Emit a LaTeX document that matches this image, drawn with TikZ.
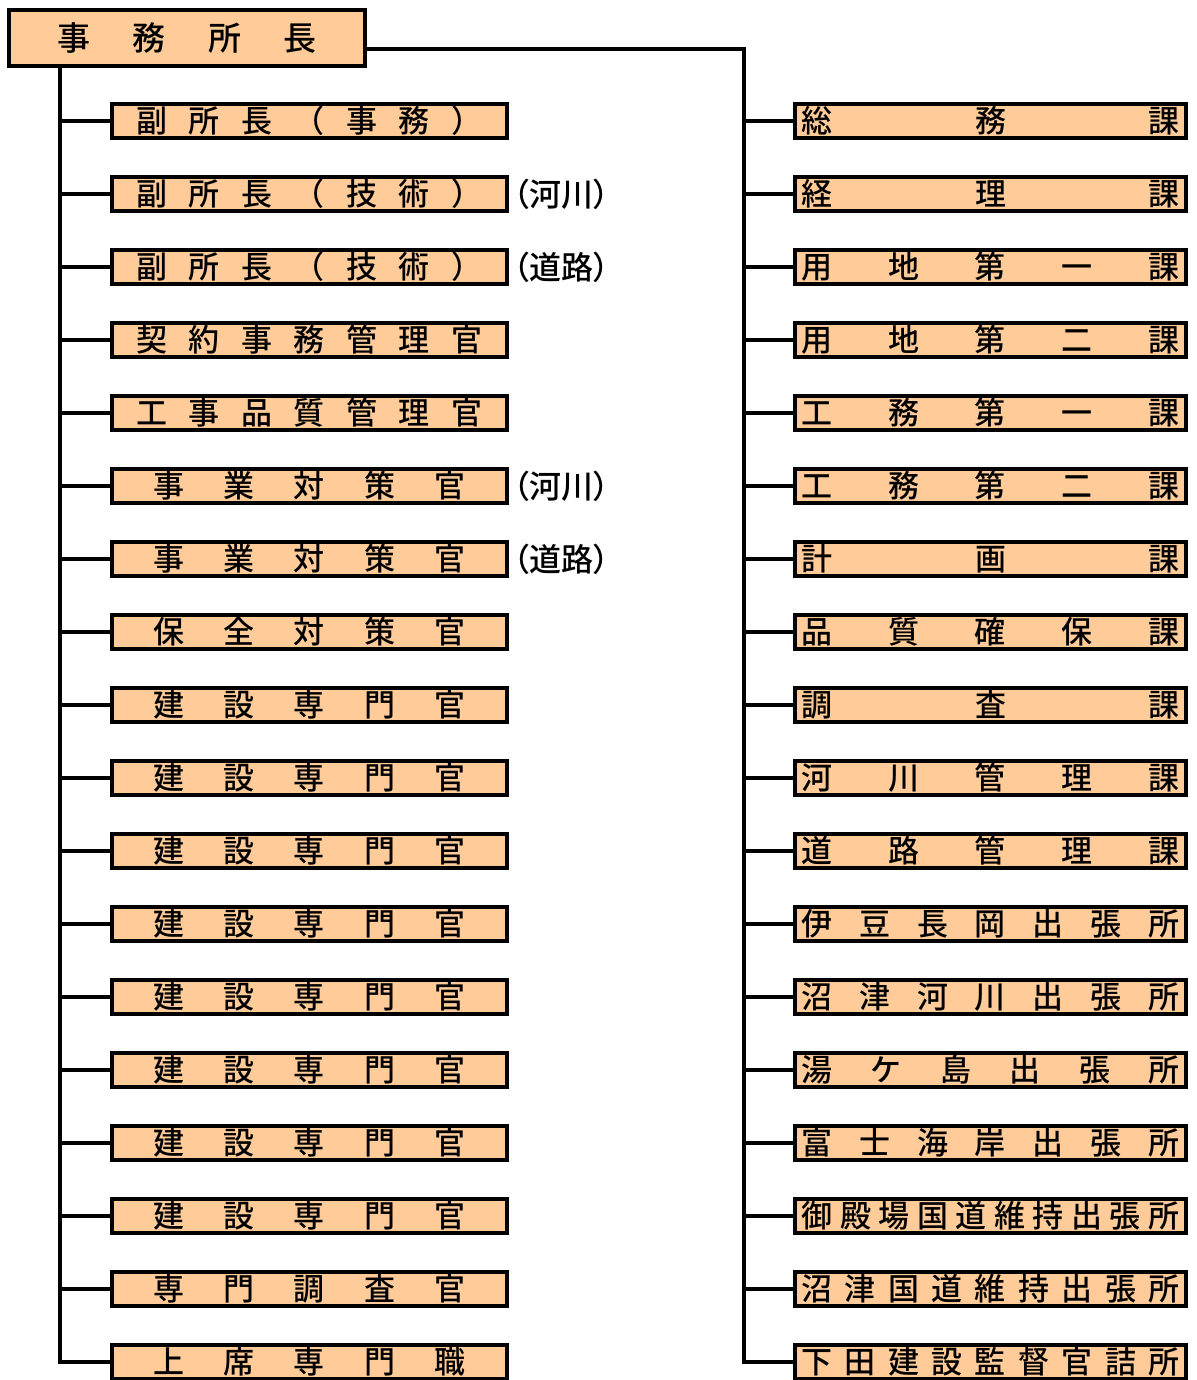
\documentclass[tikz,border=0pt]{standalone}
\usepackage{fontspec}
\setmainfont{Noto Sans CJK JP}[UprightFont=* Medium]
\newfontfamily\jpnarrow{Noto Sans CJK JP}[UprightFont=* Medium, RawFeature=+palt]
\usetikzlibrary{positioning}
\definecolor{peach}{RGB}{255,204,153}

% 文字を枠の幅いっぱいに均等割り付け
\newcommand\spreadbox[2]{\hbox to #1{\spreadloop#2\relax}}
\def\spreadloop#1#2{#1\ifx\relax#2\else\hfill\expandafter\spreadloop\expandafter#2\fi}

\begin{document}
\begin{tikzpicture}[
    x=0.5pt, y=-0.5pt,
    chiefbox/.style={
        draw, line width=2pt, fill=peach, inner sep=0pt,
        minimum width=178pt, minimum height=28pt,
        font=\fontsize{16.5pt}{18pt}\selectfont
    },
    staffbox/.style={
        draw, line width=2pt, fill=peach, inner sep=0pt,
        minimum width=197.5pt, minimum height=17pt,
        font=\fontsize{15.5pt}{17pt}\selectfont
    },
    sectbox/.style={
        draw, line width=2pt, fill=peach, inner sep=0pt,
        minimum width=195.5pt, minimum height=17pt,
        font=\fontsize{15.5pt}{17pt}\selectfont
    },
    note/.style={inner sep=0pt, font=\jpnarrow\fontsize{16pt}{17pt}\selectfont},
    conn/.style={line width=1.8pt}
]
\useasboundingbox (0,0) rectangle (1197,1380);

% 事務所長
\node[chiefbox] (chief) at (187,38) {\spreadbox{130pt}{事務所長}};

% 左列（官職）
\node[staffbox] (l1)  at (309.5,121)  {\spreadbox{173pt}{副所長（事務）}};
\node[staffbox] (l2)  at (309.5,194)  {\spreadbox{173pt}{副所長（技術）}};
\node[staffbox] (l3)  at (309.5,267)  {\spreadbox{173pt}{副所長（技術）}};
\node[staffbox] (l4)  at (309.5,340)  {\spreadbox{173pt}{契約事務管理官}};
\node[staffbox] (l5)  at (309.5,413)  {\spreadbox{173pt}{工事品質管理官}};
\node[staffbox] (l6)  at (309.5,486)  {\spreadbox{156pt}{事業対策官}};
\node[staffbox] (l7)  at (309.5,559)  {\spreadbox{156pt}{事業対策官}};
\node[staffbox] (l8)  at (309.5,632)  {\spreadbox{156pt}{保全対策官}};
\node[staffbox] (l9)  at (309.5,705)  {\spreadbox{156pt}{建設専門官}};
\node[staffbox] (l10) at (309.5,778)  {\spreadbox{156pt}{建設専門官}};
\node[staffbox] (l11) at (309.5,851)  {\spreadbox{156pt}{建設専門官}};
\node[staffbox] (l12) at (309.5,924)  {\spreadbox{156pt}{建設専門官}};
\node[staffbox] (l13) at (309.5,997)  {\spreadbox{156pt}{建設専門官}};
\node[staffbox] (l14) at (309.5,1070) {\spreadbox{156pt}{建設専門官}};
\node[staffbox] (l15) at (309.5,1143) {\spreadbox{156pt}{建設専門官}};
\node[staffbox] (l16) at (309.5,1216) {\spreadbox{156pt}{建設専門官}};
\node[staffbox] (l17) at (309.5,1289) {\spreadbox{156pt}{専門調査官}};
\node[staffbox] (l18) at (309.5,1362) {\spreadbox{156pt}{上席専門職}};

% 括弧書き
\node[note, right=2pt of l2] (n2) {（河川）};
\node[note, right=2pt of l3] (n3) {（道路）};
\node[note, right=2pt of l6] (n6) {（河川）};
\node[note, right=2pt of l7] (n7) {（道路）};

% 右列（課・出張所）
\node[sectbox] (r1)  at (990.5,121)  {\spreadbox{189pt}{総務課}};
\node[sectbox] (r2)  at (990.5,194)  {\spreadbox{189pt}{経理課}};
\node[sectbox] (r3)  at (990.5,267)  {\spreadbox{189pt}{用地第一課}};
\node[sectbox] (r4)  at (990.5,340)  {\spreadbox{189pt}{用地第二課}};
\node[sectbox] (r5)  at (990.5,413)  {\spreadbox{189pt}{工務第一課}};
\node[sectbox] (r6)  at (990.5,486)  {\spreadbox{189pt}{工務第二課}};
\node[sectbox] (r7)  at (990.5,559)  {\spreadbox{189pt}{計画課}};
\node[sectbox] (r8)  at (990.5,632)  {\spreadbox{189pt}{品質確保課}};
\node[sectbox] (r9)  at (990.5,705)  {\spreadbox{189pt}{調査課}};
\node[sectbox] (r10) at (990.5,778)  {\spreadbox{189pt}{河川管理課}};
\node[sectbox] (r11) at (990.5,851)  {\spreadbox{189pt}{道路管理課}};
\node[sectbox] (r12) at (990.5,924)  {\spreadbox{189pt}{伊豆長岡出張所}};
\node[sectbox] (r13) at (990.5,997)  {\spreadbox{189pt}{沼津河川出張所}};
\node[sectbox] (r14) at (990.5,1070) {\spreadbox{189pt}{湯ケ島出張所}};
\node[sectbox] (r15) at (990.5,1143) {\spreadbox{189pt}{富士海岸出張所}};
\node[sectbox] (r16) at (990.5,1216) {\spreadbox{189pt}{御殿場国道維持出張所}};
\node[sectbox] (r17) at (990.5,1289) {\spreadbox{189pt}{沼津国道維持出張所}};
\node[sectbox] (r18) at (990.5,1362) {\spreadbox{189pt}{下田建設監督官詰所}};

% 幹線
\coordinate (ltrunk) at (60,0);
\coordinate (rtrunk) at (744,49);
\draw[conn] (chief.south -| ltrunk) -- (ltrunk |- l18) -- (l18.west);
\draw[conn] (chief.east |- rtrunk) -- (rtrunk) -- (rtrunk |- r18) -- (r18.west);

% 枝線
\foreach \i in {1,...,17} {
    \draw[conn] (ltrunk |- l\i) -- (l\i.west);
    \draw[conn] (rtrunk |- r\i) -- (r\i.west);
}

\end{tikzpicture}
\end{document}
